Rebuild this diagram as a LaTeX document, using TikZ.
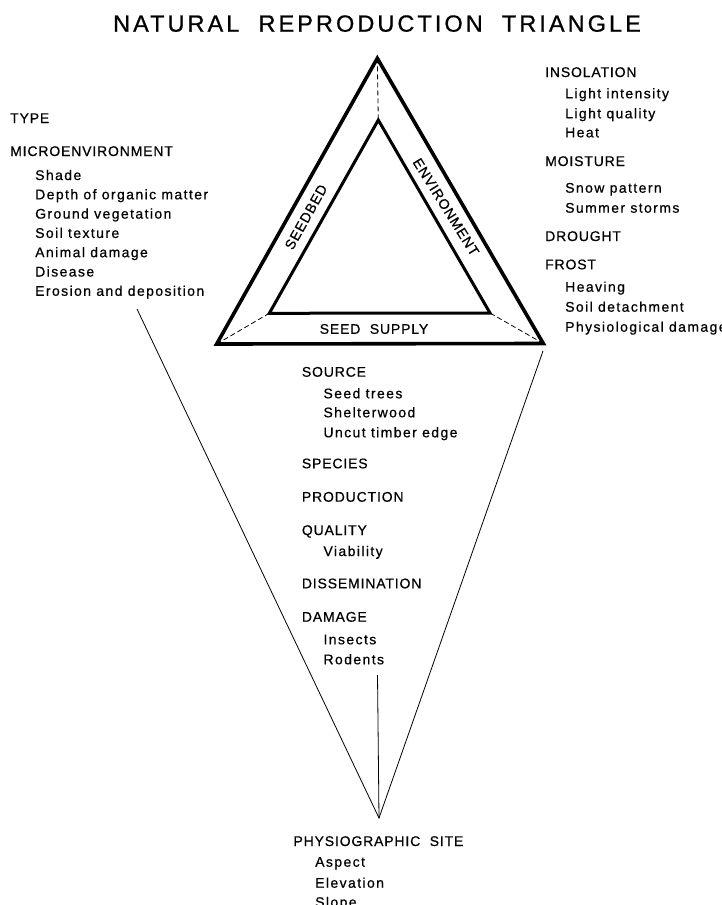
\documentclass[tikz,border=0pt]{standalone}
\usepackage{fontspec}
\setmainfont{Liberation Sans}[LetterSpace=10,FakeBold=0.6]
\newfontfamily\hdfont{Liberation Sans}[LetterSpace=6,FakeBold=0.6]
\newfontfamily\titlefont{Liberation Sans}[LetterSpace=13,FakeBold=0.8]
\begin{document}
\begin{tikzpicture}[x=1pt,y=-1pt,
  itm/.style={anchor=base west, inner sep=0pt, font=\fontsize{14}{14}\selectfont},
  hdr/.style={anchor=base west, inner sep=0pt, font=\hdfont\fontsize{14}{14}\selectfont},
  lbl/.style={inner sep=0pt, font=\hdfont\fontsize{14}{14}\selectfont},
  outer/.style={line width=3.6pt, line join=miter},
  inner/.style={line width=3pt, line join=miter},
  dashlink/.style={line width=0.8pt, dash pattern=on 5pt off 3pt},
  vline/.style={line width=0.8pt}]
\useasboundingbox (0,0) rectangle (722,905);
% title
\node[anchor=base, inner sep=0pt, font=\titlefont\fontsize{23.5}{24}\selectfont] (title) at (377,31.7) {NATURAL\ \ REPRODUCTION\ \ TRIANGLE};
% triangle
\coordinate (oA) at (377.3,58.3);
\coordinate (oL) at (216.7,344);
\coordinate (oR) at (543.3,343.5);
\coordinate (iA) at (378.3,120);
\coordinate (iL) at (269.3,313.3);
\coordinate (iR) at (490,313);
\draw[outer] (oA) -- (oL) -- (oR) -- cycle;
\draw[inner] (iA) -- (iL) -- (iR) -- cycle;
\draw[dashlink] (oA) -- (iA);
\draw[dashlink] (oL) -- (iL);
\draw[dashlink] (oR) -- (iR);
\node[lbl, rotate=60.8] (seedbed) at (306,217) {SEEDBED};
\node[lbl, rotate=-58] (environment) at (446,207) {ENVIRONMENT};
\node[lbl] (seedsupply) at (374,329) {SEED\ \ SUPPLY};
% V lines
\coordinate (vL) at (137,309);
\coordinate (vR) at (543,351);
\coordinate (vB) at (379,818);
\coordinate (vT) at (377.5,675);
\draw[vline] (vL) -- (vB) -- (vR);
\draw[vline] (vT) -- (vB);
% left block
\node[hdr] (type) at (10,123) {TYPE};
\node[hdr] (micro) at (10,156) {MICROENVIRONMENT};
\node[itm] (shade) at (35,180) {Shade};
\node[itm] (depth) at (35,199.3) {Depth of organic matter};
\node[itm] (ground) at (35,218.6) {Ground vegetation};
\node[itm] (soil) at (35,237.9) {Soil texture};
\node[itm] (animal) at (35,257.2) {Animal damage};
\node[itm] (disease) at (35,276.5) {Disease};
\node[itm] (erosion) at (35,295.8) {Erosion and deposition};
% right block
\node[hdr] (insol) at (545,77) {INSOLATION};
\node[itm] (lint) at (565,98.3) {Light intensity};
\node[itm] (lqual) at (565,118.3) {Light quality};
\node[itm] (heat) at (565,137.3) {Heat};
\node[hdr] (moist) at (545,166) {MOISTURE};
\node[itm] (snow) at (565,192.7) {Snow pattern};
\node[itm] (summer) at (565,212.7) {Summer storms};
\node[hdr] (drought) at (545,241) {DROUGHT};
\node[hdr] (frost) at (545,269.3) {FROST};
\node[itm] (heave) at (565,291.7) {Heaving};
\node[itm] (detach) at (565,311.7) {Soil detachment};
\node[itm] (physio) at (565,331.7) {Physiological damage};
% centre block
\node[hdr] (source) at (301.7,376.7) {SOURCE};
\node[itm] (seedtrees) at (323.3,398.3) {Seed trees};
\node[itm] (shelter) at (323.3,417.3) {Shelterwood};
\node[itm] (uncut) at (323.3,437.3) {Uncut timber edge};
\node[hdr] (species) at (301.7,468.3) {SPECIES};
\node[hdr] (production) at (301.7,501.7) {PRODUCTION};
\node[hdr] (quality) at (301.7,535) {QUALITY};
\node[itm] (viab) at (323.3,556) {Viability};
\node[hdr] (dissem) at (301.7,588.3) {DISSEMINATION};
\node[hdr] (damage) at (301.7,621.7) {DAMAGE};
\node[itm] (insects) at (323.3,644.3) {Insects};
\node[itm] (rodents) at (323.3,664.3) {Rodents};
% bottom block
\node[hdr] (physsite) at (293.3,846) {PHYSIOGRAPHIC\ \ SITE};
\node[itm] (aspect) at (315,866.7) {Aspect};
\node[itm] (elev) at (315,887.7) {Elevation};
\node[itm] (slope) at (315,907) {Slope};
\end{tikzpicture}
\end{document}
